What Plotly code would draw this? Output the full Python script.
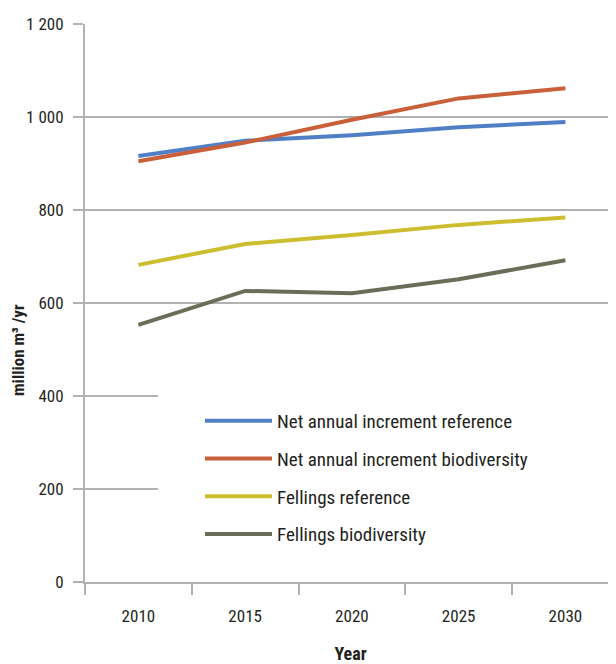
import plotly.graph_objects as go

years = ["2010", "2015", "2020", "2025", "2030"]
series_names = [
    "Net annual increment reference",
    "Net annual increment biodiversity",
    "Fellings reference",
    "Fellings biodiversity",
]
nai_reference = [916, 949, 961, 978, 989]
nai_biodiversity = [905, 945, 994, 1040, 1062]
fellings_reference = [682, 727, 746, 768, 784]
fellings_biodiversity = [553, 626, 621, 651, 692]
series_values = [nai_reference, nai_biodiversity, fellings_reference, fellings_biodiversity]
colors = ["#4F7FC5", "#C9603A", "#CDBE2F", "#6A6E57"]
y_ticks = [0, 200, 400, 600, 800, 1000, 1200]

FONT = "Roboto Condensed, Liberation Sans, sans-serif"
TXT = "#231F20"
GRID = "#B2B2B2"

fig = go.Figure()
for i, (name, vals, col) in enumerate(zip(series_names, series_values, colors)):
    fig.add_trace(go.Scatter(
        x=years, y=vals, name=name, mode="lines",
        line=dict(color=col, width=4),
        legendgroup=f"g{i}",
    ))

# page body adds an 8px offset; figure coordinates below are screen - 8
W, H = 608, 656
L, R, T, B = 77, 0, 16, 82
pw, ph = W - L - R, H - T - B

def px_x(px):
    return (px - 8 - L) / pw

def px_y(py):
    return (H - B - (py - 8)) / ph

fig.update_layout(
    width=W, height=H,
    margin=dict(l=L, r=R, t=T, b=B, autoexpand=False),
    paper_bgcolor="white", plot_bgcolor="white",
    font=dict(family=FONT, size=19, color=TXT),
    separators=". ",
    showlegend=True,
    legend=dict(
        x=px_x(200), y=px_y(402), xanchor="left", yanchor="top",
        bgcolor="rgba(0,0,0,0)", borderwidth=0,
        tracegroupgap=10, itemwidth=67,
        font=dict(family=FONT, size=19, color=TXT),
    ),
    xaxis=dict(
        type="category", range=[-0.5, 4.474],
        tickson="boundaries", ticks="outside", ticklen=11, tickwidth=2,
        tickcolor=GRID, showline=True, linecolor=GRID, linewidth=2,
        showgrid=False, zeroline=False, ticklabelstandoff=18,
        tickfont=dict(family=FONT, size=17, color=TXT),
        title=dict(text="<b>Year</b>", standoff=32,
                   font=dict(family=FONT, size=18, color=TXT)),
        automargin=False,
    ),
    yaxis=dict(
        range=[0, 1200], tickvals=y_ticks, tickformat=",d",
        ticks="outside", ticklen=10, tickwidth=2, tickcolor=GRID,
        showline=True, linecolor=GRID, linewidth=2,
        showgrid=True, gridcolor=GRID, gridwidth=2,
        zeroline=False, ticklabelstandoff=6,
        tickfont=dict(family=FONT, size=17, color=TXT),
        automargin=False,
    ),
    shapes=[dict(
        type="rect", xref="paper", yref="paper", layer="above",
        x0=px_x(158), x1=1.0, y0=px_y(560), y1=px_y(392),
        fillcolor="white", line=dict(width=0),
    )],
    annotations=[dict(
        text="<b>million m³ /yr</b>", textangle=-90,
        xref="paper", yref="paper", x=px_x(18), y=px_y(350),
        xanchor="center", yanchor="middle", showarrow=False,
        font=dict(family=FONT, size=17, color=TXT),
    )],
)

fig.write_html("out.html")
